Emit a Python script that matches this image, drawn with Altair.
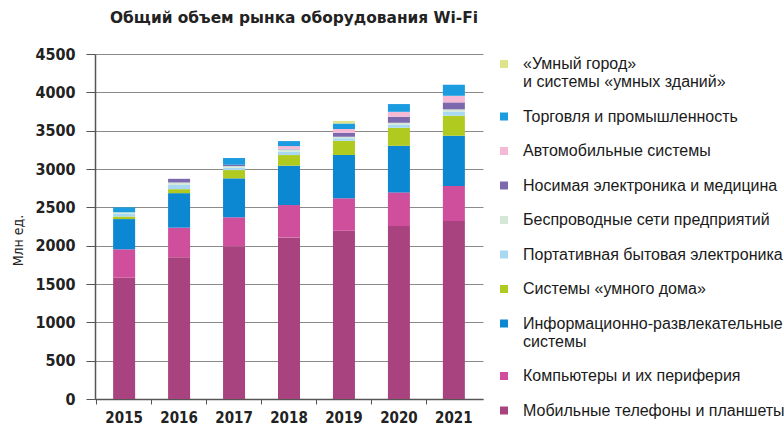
import altair as alt
import pandas as pd

years = ["2015", "2016", "2017", "2018", "2019", "2020", "2021"]

# stacking order: bottom to top
series_names = [
    "Мобильные телефоны и планшеты",
    "Компьютеры и их периферия",
    "Информационно-развлекательные|системы",
    "Системы «умного дома»",
    "Портативная бытовая электроника",
    "Беспроводные сети предприятий",
    "Носимая электроника и медицина",
    "Автомобильные системы",
    "Торговля и промышленность",
    "«Умный город»|и системы «умных зданий»",
]

mobile = [1582, 1850, 1990, 2108, 2195, 2256, 2321]
computers = [370, 385, 380, 422, 422, 439, 457]
infotainment = [395, 450, 508, 513, 565, 608, 656]
smart_home = [33, 52, 108, 139, 187, 235, 261]
portable = [35, 55, 30, 45, 32, 40, 50]
enterprise = [20, 32, 22, 30, 20, 25, 33]
wearable = [0, 48, 17, 5, 52, 78, 91]
automotive = [0, 0, 0, 37, 48, 65, 86]
trade = [65, 0, 88, 65, 74, 101, 144]
smart_city = [0, 0, 0, 0, 30, 0, 0]

series_values = [mobile, computers, infotainment, smart_home, portable,
                 enterprise, wearable, automotive, trade, smart_city]

colors = ["#a9437f", "#cf4f9c", "#0c87d1", "#b1ca1f", "#a9d9f2",
          "#d3e9d6", "#7c68ad", "#f5b8d5", "#1b9be0", "#dfe48a"]

rows = []
for i, (name, vals) in enumerate(zip(series_names, series_values)):
    for yr, v in zip(years, vals):
        rows.append({"year": yr, "segment": name, "value": v, "stack": i})
df = pd.DataFrame(rows)

legend_order = list(reversed(series_names))
legend_colors = list(reversed(colors))

axis_font = "Liberation Sans Narrow, DejaVu Sans Condensed, Liberation Sans"

chart = alt.Chart(df).mark_bar(width=22).encode(
    x=alt.X(
        "year:N",
        sort=years,
        scale=alt.Scale(paddingInner=0, paddingOuter=0.03),
        axis=alt.Axis(
            title=None, labelAngle=0, bandPosition=0,
            labelFont=axis_font, labelFontSize=15, labelFontWeight="bold",
            labelColor="#222", tickSize=5, tickColor="#555", domainColor="#555",
            domainWidth=1.5, labelPadding=6, grid=False,
        ),
    ),
    y=alt.Y(
        "value:Q",
        stack="zero",
        scale=alt.Scale(domain=[0, 4500], nice=False),
        axis=alt.Axis(
            values=list(range(0, 4501, 500)), format="d", title="Млн ед.",
            titleFont=axis_font, titleFontSize=14, titleFontWeight="normal",
            titleColor="#222", titleX=-77, titleY=186, titleAngle=-90,
            titleBaseline="middle",
            labelFont=axis_font, labelFontSize=16, labelFontWeight="bold",
            labelColor="#222", tickSize=9, tickColor="#555", labelPadding=11,
            domainColor="#555", domainWidth=1.5,
            grid=True, gridColor="#8a8a8a", gridWidth=1,
        ),
    ),
    color=alt.Color(
        "segment:N",
        scale=alt.Scale(domain=legend_order, range=legend_colors),
        legend=alt.Legend(
            title=None, orient="none", legendX=401, legendY=2,
            symbolType="square", symbolSize=64, symbolStrokeWidth=0,
            labelFont="Liberation Sans", labelFontSize=16, labelColor="#1a1a1a",
            labelOffset=11, rowPadding=18.5, labelLimit=400, padding=0,
            labelExpr="split(datum.label, '|')",
        ),
    ),
    order=alt.Order("stack:Q", sort="ascending"),
).properties(
    width=388,
    height=345,
    title=alt.TitleParams(
        "Общий объем рынка оборудования Wi-Fi",
        font="DejaVu Sans", fontSize=15.4, fontWeight="bold", color="#222",
        anchor="middle", offset=20, dx=5,
    ),
    autosize=alt.AutoSizeParams(type="none"),
    padding={"left": 95, "top": 54, "right": 301, "bottom": 27},
    background="white",
).configure_view(stroke=None)

chart.save("out.html", embed_options={"renderer": "svg", "actions": False})
